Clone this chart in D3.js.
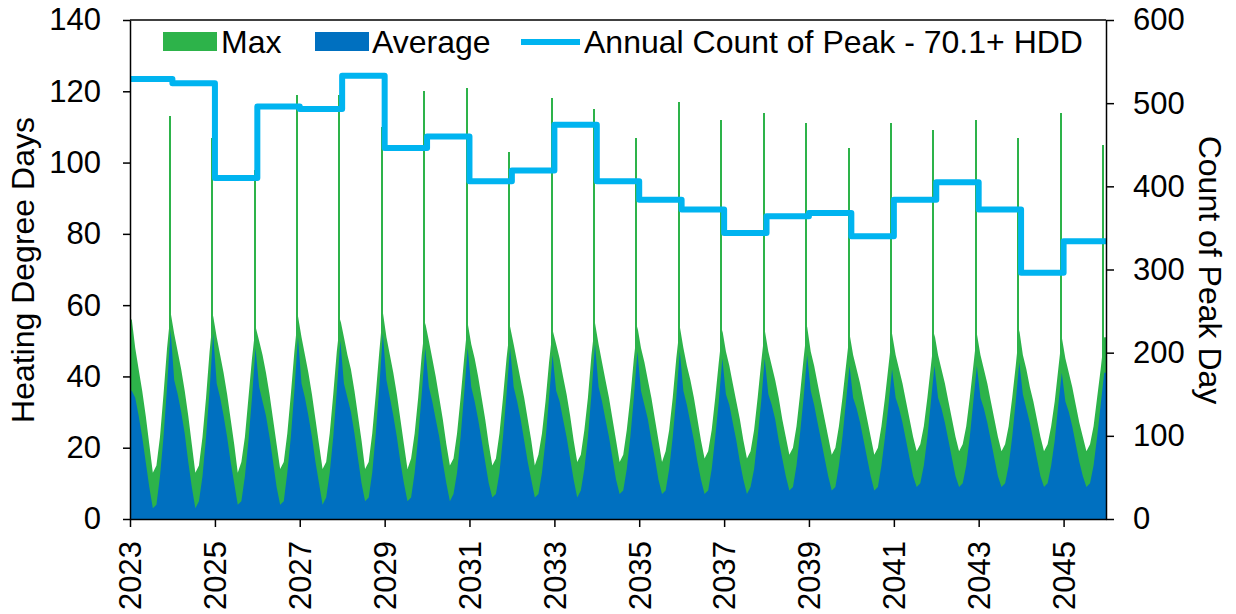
<!DOCTYPE html>
<html><head><meta charset="utf-8">
<script src="https://cdn.jsdelivr.net/npm/d3@7"></script>
<style>
body{margin:0;background:#fff}
text{font-family:"Liberation Sans",Arial,sans-serif;fill:#000}
</style>
</head><body>
<svg id="chart" width="1236" height="614"></svg>
<script>
// ---------------- DATA ----------------
const years = [2023,2024,2025,2026,2027,2028,2029,2030,2031,2032,2033,2034,2035,2036,2037,2038,2039,2040,2041,2042,2043,2044,2045];
const months = ["Jan","Feb","Mar","Apr","May","Jun","Jul","Aug","Sep","Oct","Nov","Dec"];

// Average HDD (mid-month level), one row per year, Jan..Dec
const avgHDD = [
 [36,34,29,23,16,9,3,4,12,23,37,53],
 [39,35,30,24,16,9,3,5,12,23,36,52],
 [38,34,29,23,16,10,4,5,12,22,34,48],
 [37,33,29,23,16,9,4,5,13,23,36,51],
 [38,34,29,23,16,10,4,6,13,23,36,50],
 [38,34,30,24,17,10,5,6,13,24,37,52],
 [39,34,29,23,16,10,5,6,13,23,35,48],
 [37,33,28,23,16,10,5,7,13,23,35,48],
 [37,33,28,22,16,10,6,7,13,23,35,48],
 [37,33,28,22,16,11,6,7,13,22,34,46],
 [36,33,28,23,17,11,6,8,14,23,35,49],
 [37,33,28,23,17,11,7,8,14,23,34,47],
 [36,32,28,22,17,11,7,8,14,23,34,47],
 [36,32,27,22,16,11,7,8,14,23,33,45],
 [35,32,27,22,16,11,7,9,14,23,33,45],
 [35,32,28,22,17,12,8,9,15,24,34,46],
 [36,32,27,22,17,12,8,9,15,23,33,43],
 [34,31,27,22,17,12,8,9,15,23,32,42],
 [34,31,27,22,17,12,9,10,15,23,33,43],
 [34,31,27,22,17,12,9,10,15,23,33,43],
 [34,31,27,22,17,12,9,10,15,23,33,44],
 [35,31,27,22,17,12,9,10,15,22,32,41],
 [33,30,26,21,16,12,9,10,15,23,32,41]
];

// Max HDD (mid-month envelope), one row per year, Jan..Dec
const maxHDD = [
 [56,48,42,36,29,21,13,15,23,35,48,58],
 [52,47,42,36,29,21,13,15,23,34,47,57],
 [51,46,41,35,28,21,13,16,23,34,45,54],
 [50,46,41,35,28,21,14,16,24,35,47,57],
 [51,46,41,35,28,21,14,16,24,35,47,56],
 [51,46,42,36,29,22,14,16,24,35,47,58],
 [51,46,41,35,28,21,14,17,24,34,46,55],
 [50,45,40,34,28,21,15,17,24,34,45,55],
 [49,45,40,34,28,21,15,17,24,34,45,54],
 [49,44,39,34,28,22,15,18,24,33,44,53],
 [49,45,40,35,29,22,16,18,25,34,46,55],
 [49,44,39,34,28,22,16,18,25,34,45,54],
 [48,44,39,34,28,22,16,19,25,34,45,54],
 [48,43,39,34,28,22,17,19,25,34,44,53],
 [47,43,38,33,28,22,17,19,25,34,44,53],
 [47,43,39,34,28,23,18,20,26,35,45,54],
 [47,43,38,33,28,23,18,20,26,34,43,52],
 [46,42,38,33,28,23,18,20,26,34,43,52],
 [46,42,38,33,28,23,19,21,26,34,43,52],
 [46,42,38,33,28,23,19,21,26,34,43,52],
 [46,42,38,33,28,23,19,21,26,34,43,53],
 [46,42,37,33,28,23,19,21,26,33,42,51],
 [45,41,37,32,27,23,19,21,26,34,42,51]
];

// Single peak day of Max each winter (early December)
const peakDayOfMonth = 8;
const peakDayMax = [113,107,98,119,119,110,120,121,103,118,115,107,117,112,114,111,104,111,109,112,107,114,105];

// Annual count of peak days (70.1+ HDD), right axis
const peakCount = [529,524,410,496,493,533,446,460,406,419,474,406,384,372,344,364,368,340,384,405,372,296,334];

const leftTicks = [0,20,40,60,80,100,120,140];
const rightTicks = [0,100,200,300,400,500,600];
const xTickYears = [2023,2025,2027,2029,2031,2033,2035,2037,2039,2041,2043,2045];
const legendLabels = ["Max","Average","Annual Count of Peak - 70.1+ HDD"];
const yTitleLeft = "Heating Degree Days";
const yTitleRight = "Count of Peak Day";

// ---------------- STYLE ----------------
const M = {l:130, r:1106, t:20, b:519};
const COL_MAX = "#2DB34A", COL_AVG = "#0070C0", COL_LINE = "#00B4F0";
const FS_TICK = 31, FS = 32;

const svg = d3.select("#chart");

const d0 = Date.UTC(years[0],0,1), d1 = Date.UTC(years[years.length-1]+1,0,1);
const x = d3.scaleUtc().domain([d0, d1]).range([M.l, M.r]);
const y = d3.scaleLinear().domain([0,140]).range([M.b, M.t]);
const y2 = d3.scaleLinear().domain([0,600]).range([M.b, M.t]);

// mid-month records
const recs = [];
years.forEach((yr,i)=>{
  months.forEach((m,j)=>{
    const s = Date.UTC(yr,j,1), e = Date.UTC(yr,j+1,1);
    recs.push({date:(s+e)/2, avg:avgHDD[i][j], max:maxHDD[i][j]});
  });
});
// extend to the axis edges with the first / last readings
const series = [{date:d0, avg:recs[0].avg, max:recs[0].max}, ...recs,
                {date:d1, avg:recs[recs.length-1].avg, max:recs[recs.length-1].max}];
const spikes = years.map((yr,i)=>({date:Date.UTC(yr,11,peakDayOfMonth), v:peakDayMax[i]}));

svg.append("path").datum(series)
  .attr("d", d3.area().x(d=>x(d.date)).y0(y(0)).y1(d=>y(d.max)))
  .attr("fill",COL_MAX);
svg.append("g").attr("shape-rendering","crispEdges")
  .selectAll("rect").data(spikes).join("rect")
  .attr("x",d=>x(d.date)-1).attr("width",2)
  .attr("y",d=>y(d.v)).attr("height",d=>y(0)-y(d.v)).attr("fill",COL_MAX);
svg.append("path").datum(series)
  .attr("d", d3.area().x(d=>x(d.date)).y0(y(0)).y1(d=>y(d.avg)))
  .attr("fill",COL_AVG);

// step line
const stepPts = years.map((yr,i)=>({d:Date.UTC(yr,0,1), v:peakCount[i]}));
stepPts.push({d:d1, v:peakCount[peakCount.length-1]});
svg.append("path").datum(stepPts)
  .attr("d", d3.line().x(d=>x(d.d)).y(d=>y2(d.v)).curve(d3.curveStepAfter))
  .attr("fill","none").attr("stroke",COL_LINE).attr("stroke-width",6)
  .attr("stroke-linejoin","round");

// axes
function styleAxis(g){
  g.selectAll("path,line").attr("stroke","#000").attr("stroke-width",1.5);
  g.selectAll("text").attr("font-size",FS_TICK).attr("font-family","Liberation Sans, Arial, sans-serif").attr("fill","#000");
}
svg.append("g").attr("transform",`translate(${M.l},0)`)
  .call(d3.axisLeft(y).tickValues(leftTicks).tickSize(7).tickSizeOuter(0).tickPadding(22))
  .call(styleAxis);
svg.append("g").attr("transform",`translate(${M.r},0)`)
  .call(d3.axisRight(y2).tickValues(rightTicks).tickSize(8).tickSizeOuter(0).tickPadding(19))
  .call(styleAxis);
const gx = svg.append("g").attr("transform",`translate(0,${M.b})`)
  .call(d3.axisBottom(x).tickValues(xTickYears.map(v=>new Date(Date.UTC(v,0,1)))).tickFormat(d3.utcFormat("%Y")).tickSize(8).tickSizeOuter(0))
  .call(styleAxis);
gx.selectAll("text").attr("transform","rotate(-90)").attr("text-anchor","end")
  .attr("x",-22).attr("y",0).attr("dy","0.35em");
// top border
svg.append("line").attr("x1",M.l).attr("x2",M.r).attr("y1",M.t).attr("y2",M.t)
  .attr("stroke","#000").attr("stroke-width",1.5);

// titles
svg.append("text").attr("transform","translate(34,270) rotate(-90)")
  .attr("text-anchor","middle").attr("font-size",FS).text(yTitleLeft);
svg.append("text").attr("transform","translate(1199,270) rotate(90)")
  .attr("text-anchor","middle").attr("font-size",FS).text(yTitleRight);

// legend
const lg = svg.append("g");
lg.append("rect").attr("x",163).attr("y",32).attr("width",54).attr("height",19).attr("fill",COL_MAX);
lg.append("text").attr("x",221).attr("y",53).attr("font-size",FS).text(legendLabels[0]);
lg.append("rect").attr("x",315).attr("y",32).attr("width",54).attr("height",19).attr("fill",COL_AVG);
lg.append("text").attr("x",372).attr("y",53).attr("font-size",FS).text(legendLabels[1]);
lg.append("line").attr("x1",521).attr("x2",580).attr("y1",42).attr("y2",42)
  .attr("stroke",COL_LINE).attr("stroke-width",6);
lg.append("text").attr("x",584).attr("y",53).attr("font-size",FS).text(legendLabels[2]);
</script>
</body></html>
